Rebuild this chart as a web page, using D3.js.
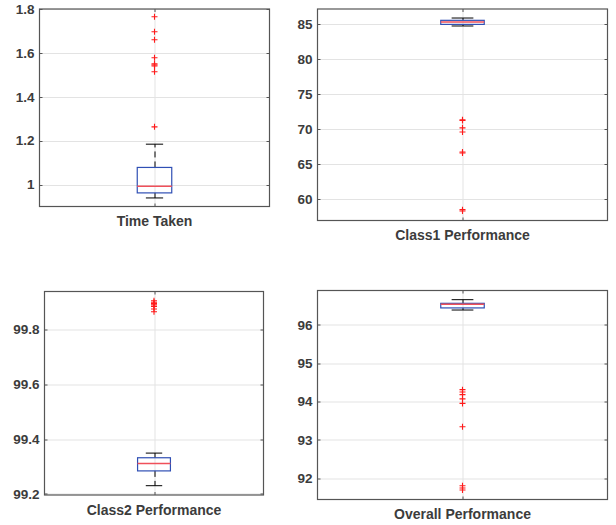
<!DOCTYPE html>
<html>
<head>
<meta charset="utf-8">
<script src="https://cdn.jsdelivr.net/npm/d3@7"></script>
<style>
  body { margin: 0; background: #fff; }
  svg { display: block; }
  text { font-family: "Liberation Sans", Arial, sans-serif; font-weight: bold; fill: #3c3c3c; }
</style>
</head>
<body>
<div id="chart"></div>
<script>
// one entry per subplot, in reading order
const labels = ['Time Taken', 'Class1 Performance', 'Class2 Performance', 'Overall Performance'];
const yLimits = [[0.9, 1.8], [56.9, 87.15], [99.196, 99.939], [91.44, 96.9]];
const yTicks = [
  [1, 1.2, 1.4, 1.6, 1.8],
  [60, 65, 70, 75, 80, 85],
  [99.2, 99.4, 99.6, 99.8],
  [92, 93, 94, 95, 96]
];
const whiskerLow = [0.939, 84.72, 99.23, 96.39];
const q1 = [0.962, 84.95, 99.284, 96.445];
const median = [0.992, 85.29, 99.311, 96.54];
const q3 = [1.078, 85.53, 99.332, 96.565];
const whiskerHigh = [1.184, 85.86, 99.349, 96.66];
const outliers = [
  [1.765, 1.696, 1.66, 1.578, 1.55, 1.545, 1.54, 1.514, 1.263],
  [71.3, 71.2, 70.15, 69.55, 66.7, 66.55, 58.45, 58.25],
  [99.905, 99.9, 99.895, 99.89, 99.884, 99.875, 99.865],
  [94.31, 94.25, 94.18, 94.07, 93.95, 93.34, 91.8, 91.74, 91.69]
];

// axes boxes in page pixels [left, top, right, bottom]
const frames = [
  [39.5, 9, 269.5, 206.5],
  [317.5, 9, 607.5, 220.5],
  [44.5, 291.5, 263.5, 495],
  [317.5, 290.5, 607.5, 499.5]
];

const boxWidth = 0.15;
const capWidth = 0.075;
const tickLen = 3;
const axisColor = '#555';

const svg = d3.select('#chart')
  .append('svg')
  .attr('width', 616)
  .attr('height', 525);

svg.append('rect').attr('width', 616).attr('height', 525).attr('fill', '#fff');

labels.forEach((label, i) => {
  const [left, top, right, bottom] = frames[i];
  const w = right - left;
  const h = bottom - top;

  const x = d3.scaleLinear().domain([0.5, 1.5]).range([0, w]);
  const y = d3.scaleLinear().domain(yLimits[i]).range([h, 0]);

  const g = svg.append('g')
    .attr('transform', 'translate(' + left + ',' + top + ')');

  // grid
  g.append('g')
    .selectAll('line')
    .data(yTicks[i])
    .enter()
    .append('line')
    .attr('x1', 0)
    .attr('x2', w)
    .attr('y1', d => Math.round(y(d)) + 0.5)
    .attr('y2', d => Math.round(y(d)) + 0.5)
    .attr('stroke', '#e3e3e3');
  g.append('line')
    .attr('x1', Math.round(x(1)) + 0.5)
    .attr('x2', Math.round(x(1)) + 0.5)
    .attr('y1', 0)
    .attr('y2', h)
    .attr('stroke', '#e3e3e3');

  const cx = Math.round(x(1)) + 0.5;

  // whiskers
  const whisk = g.append('g').attr('stroke', '#000').attr('stroke-width', 1);
  whisk.append('line')
    .attr('x1', cx).attr('x2', cx)
    .attr('y1', y(q3[i])).attr('y2', y(whiskerHigh[i]))
    .attr('stroke-dasharray', '6,4');
  whisk.append('line')
    .attr('x1', cx).attr('x2', cx)
    .attr('y1', y(q1[i])).attr('y2', y(whiskerLow[i]))
    .attr('stroke-dasharray', '6,4');
  [whiskerHigh[i], whiskerLow[i]].forEach(v => {
    whisk.append('line')
      .attr('x1', x(1 - capWidth / 2)).attr('x2', x(1 + capWidth / 2))
      .attr('y1', y(v)).attr('y2', y(v));
  });

  // box
  g.append('rect')
    .attr('x', x(1 - boxWidth / 2))
    .attr('y', y(q3[i]))
    .attr('width', x(1 + boxWidth / 2) - x(1 - boxWidth / 2))
    .attr('height', y(q1[i]) - y(q3[i]))
    .attr('fill', 'none')
    .attr('stroke', '#2f4fb4')
    .attr('stroke-width', 1.2);

  g.append('line')
    .attr('x1', x(1 - boxWidth / 2)).attr('x2', x(1 + boxWidth / 2))
    .attr('y1', y(median[i])).attr('y2', y(median[i]))
    .attr('stroke', '#f0505a')
    .attr('stroke-width', 1.4);

  // outliers
  g.append('g')
    .selectAll('path')
    .data(outliers[i])
    .enter()
    .append('path')
    .attr('d', d => {
      const px = x(1);
      const py = y(d);
      return 'M' + (px - 3) + ',' + py + 'H' + (px + 3) + 'M' + px + ',' + (py - 3) + 'V' + (py + 3);
    })
    .attr('stroke', '#ff1a1a')
    .attr('stroke-width', 1.1)
    .attr('fill', 'none');

  // frame
  g.append('rect')
    .attr('x', 0).attr('y', 0)
    .attr('width', w).attr('height', h)
    .attr('fill', 'none')
    .attr('stroke', axisColor)
    .attr('stroke-width', 1.2);

  // inward ticks, left and right
  const ticks = g.append('g').attr('stroke', axisColor);
  yTicks[i].forEach(t => {
    const ty = Math.round(y(t)) + 0.5;
    ticks.append('line').attr('x1', 0).attr('x2', tickLen).attr('y1', ty).attr('y2', ty);
    ticks.append('line').attr('x1', w - tickLen).attr('x2', w).attr('y1', ty).attr('y2', ty);
  });
  ticks.append('line').attr('x1', cx).attr('x2', cx).attr('y1', 0).attr('y2', tickLen);
  ticks.append('line').attr('x1', cx).attr('x2', cx).attr('y1', h - tickLen).attr('y2', h);

  g.append('g')
    .selectAll('text')
    .data(yTicks[i])
    .enter()
    .append('text')
    .attr('x', -5)
    .attr('y', d => y(d))
    .attr('dy', '0.35em')
    .attr('text-anchor', 'end')
    .style('font-size', '13.5px')
    .text(d => d3.format('~g')(d));

  g.append('text')
    .attr('x', x(1))
    .attr('y', h + 15)
    .attr('dy', '0.35em')
    .attr('text-anchor', 'middle')
    .style('font-size', '14px')
    .text(label);
});
</script>
</body>
</html>
